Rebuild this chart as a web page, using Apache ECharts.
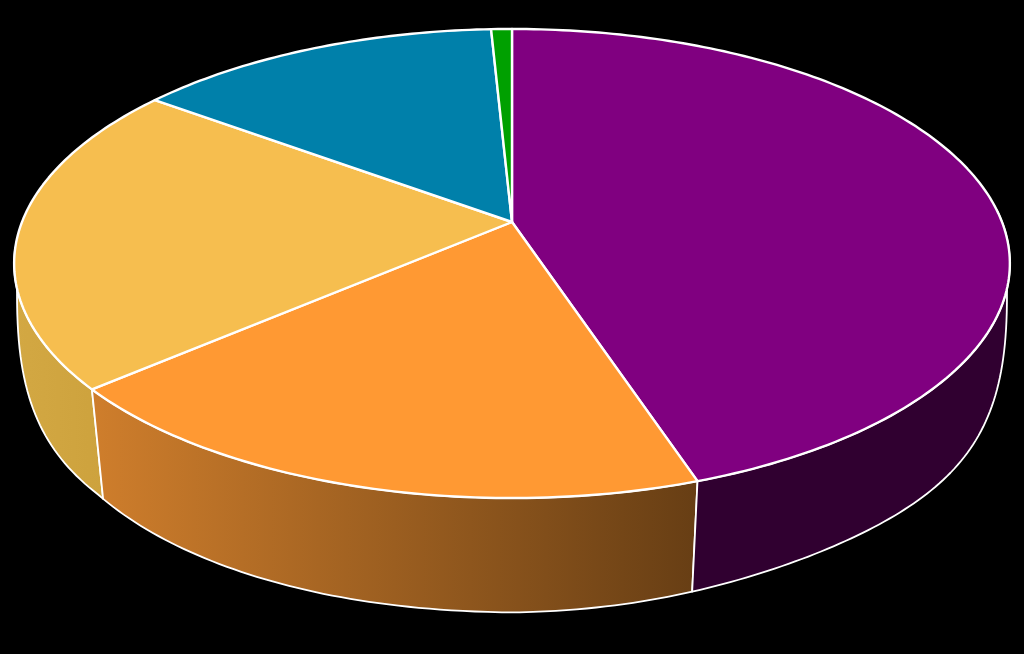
<!DOCTYPE html>
<html>
<head>
<meta charset="utf-8">
<style>html,body{margin:0;padding:0;background:#000}#c{width:1024px;height:654px}</style>
<script src="https://cdn.jsdelivr.net/npm/echarts@6/dist/echarts.min.js"></script>
</head>
<body>
<div id="c"></div>
<script>
// Shares of the whole, clockwise from 12 o'clock
const values = [44.9, 18.8, 21.4, 14.1, 0.8];
const topColors = ['#800080', '#FF9933', '#F6BE4F', '#0080AA', '#00A000'];
const sideFrom = ['#300030', '#CF7E2C', '#D3A843', '#004055', '#005000'];
const sideTo = ['#300030', '#673E14', '#CDA23D', '#004055', '#005000'];

const total = values.reduce((a, b) => a + b, 0);
const rimTop = {a: 490, b: 227.2, y0: 222};
const K = 0.177, CX = 512;
// lower rim is a slightly squared-off, slightly uneven curve
const LOW = {rx: 495, ry: 322.5, cy: 290, e: 0.851, gLeft: 1.075, gRight: 0.967};
const SIDE_START = 180 - 90 / LOW.gRight, SIDE_END = 180 + 90 / LOW.gLeft;

function topPoint(deg) {
  const t = deg * Math.PI / 180, u = Math.sin(t), v = -Math.cos(t), w = 1 - K * v;
  return [CX + rimTop.a * u / w, rimTop.y0 + rimTop.b * v / w];
}
function lowPoint(deg) {
  const right = deg <= 180;
  const phiDeg = Math.max(0, 90 - Math.abs(deg - 180) * (right ? LOW.gRight : LOW.gLeft));
  const phi = phiDeg * Math.PI / 180, f = phiDeg / 90;
  const dx = LOW.rx * Math.pow(Math.cos(phi), LOW.e);
  let y = LOW.cy + LOW.ry * Math.pow(Math.sin(phi), LOW.e);
  const s = Math.sin(4 * (Math.PI / 2) * Math.pow(f, 0.75));
  if (right) y += 12 * s * (1 - 0.5 * Math.pow(f, 4));
  else y += 12 * (s < 0 ? 0.4 * s : s);
  return [CX + (right ? dx : -dx), y];
}
function arc(fn, d0, d1, api) {
  const n = Math.max(2, Math.ceil(Math.abs(d1 - d0))), pts = [];
  for (let i = 0; i <= n; i++) pts.push(api.coord(fn(d0 + (d1 - d0) * i / n)));
  return pts;
}
function range(i) {
  let s = 0;
  for (let j = 0; j < i; j++) s += values[j];
  return [s / total * 360, (s + values[i]) / total * 360];
}
function renderSide(params, api) {
  const i = api.value(0), r = range(i);
  const d0 = Math.max(r[0], SIDE_START), d1 = Math.min(r[1], SIDE_END);
  if (d0 >= d1) return null;
  const pts = arc(topPoint, d0, d1, api).concat(arc(lowPoint, d1, d0, api));
  return {
    type: 'polygon', shape: {points: pts},
    style: {
      fill: new echarts.graphic.LinearGradient(0, 0, 1, 0, [
        {offset: 0, color: sideFrom[i]}, {offset: 1, color: sideTo[i]}]),
      stroke: '#fff', lineWidth: 1.8, lineJoin: 'round'
    }
  };
}
function renderTop(params, api) {
  const i = api.value(0), r = range(i);
  const pts = [api.coord([CX, rimTop.y0])].concat(arc(topPoint, r[0], r[1], api));
  return {
    type: 'polygon', shape: {points: pts},
    style: {fill: topColors[i], stroke: '#fff', lineWidth: 2.4, lineJoin: 'round'}
  };
}
const rows = values.map((v, i) => [i, v]);
const chart = echarts.init(document.getElementById('c'), null, {renderer: 'canvas'});
chart.setOption({
  backgroundColor: '#000',
  animation: false,
  grid: {left: 0, right: 0, top: 0, bottom: 0},
  xAxis: {type: 'value', min: 0, max: 1024, show: false},
  yAxis: {type: 'value', min: 0, max: 654, inverse: true, show: false},
  series: [
    {type: 'custom', renderItem: renderSide, data: rows.slice().reverse(), clip: false, silent: true, z: 1},
    {type: 'custom', renderItem: renderTop, data: rows, clip: false, silent: true, z: 2}
  ]
});
</script>
</body>
</html>
